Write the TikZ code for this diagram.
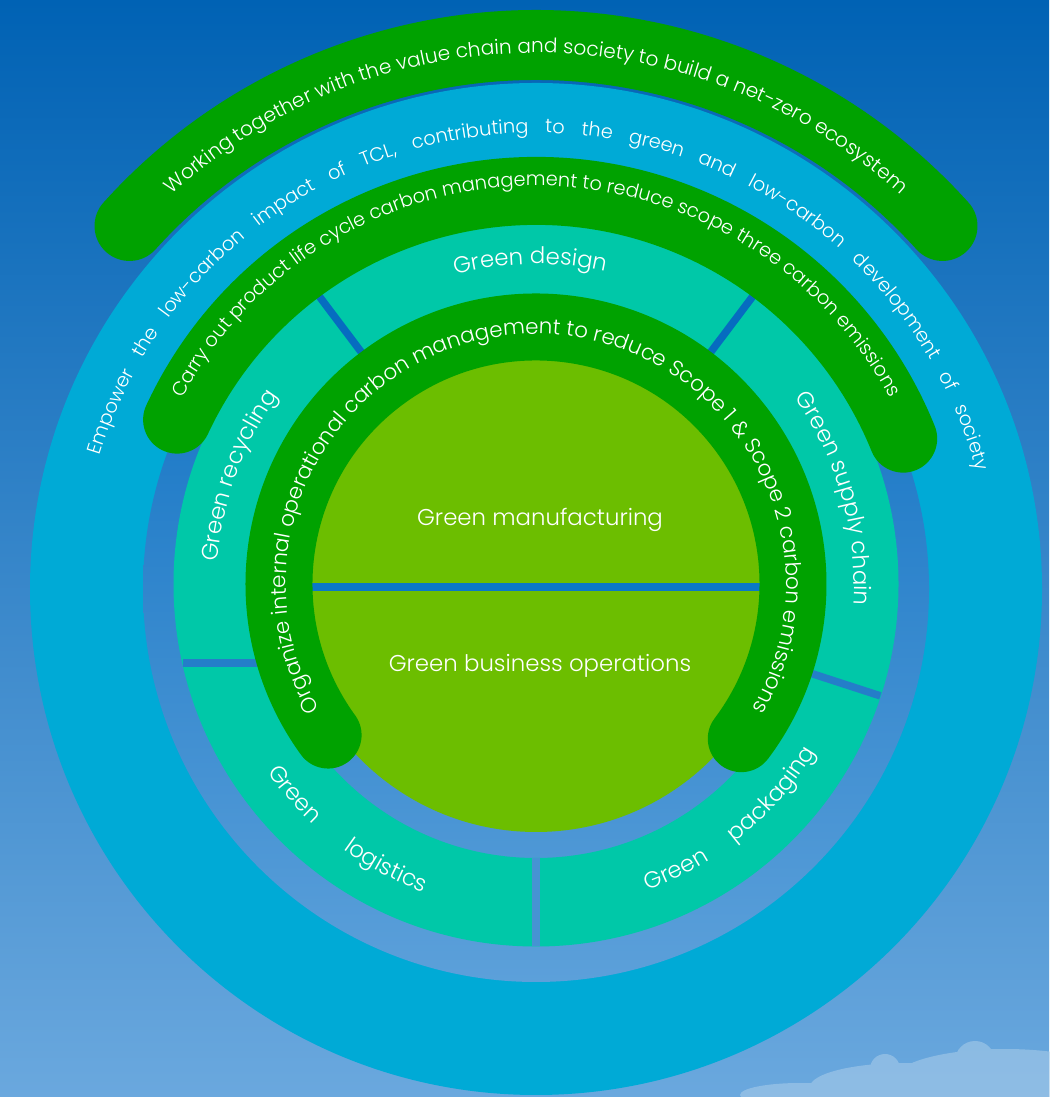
\documentclass[tikz,border=0pt]{standalone}
\usepackage{fontspec}
\setmainfont{Poppins}[UprightFont=* Light]
\usetikzlibrary{decorations.text}

\definecolor{skytop}{RGB}{0,98,180}
\definecolor{skymid}{RGB}{22,124,204}
\definecolor{skybot}{RGB}{106,168,222}
\definecolor{cloud}{RGB}{172,206,234}
\definecolor{ringtop}{RGB}{6,108,192}
\definecolor{ringbot}{RGB}{92,160,218}
\definecolor{cyanring}{RGB}{0,170,214}
\definecolor{tealseg}{RGB}{0,200,168}
\definecolor{bandgreen}{RGB}{0,162,0}
\definecolor{coregreen}{RGB}{108,190,0}
\definecolor{splitblue}{RGB}{10,120,200}

\newcommand{\ringfont}{\fontsize{11pt}{13pt}\selectfont}
\newcommand{\topfont}{\fontsize{11.4pt}{13pt}\selectfont}
\newcommand{\corefont}{\fontsize{12.2pt}{14pt}\selectfont}
\newcommand{\segfont}{\fontsize{13pt}{15pt}\selectfont}

\begin{document}
\begin{tikzpicture}[x=0.02cm,y=0.02cm,
  band/.style={draw=bandgreen,line cap=round},
  split/.style={draw=#1,line width=0.15cm},
  arctext/.style={decorate,decoration={text along path,text color=white,#1}}]
\useasboundingbox (0,0) rectangle (1049,1097);
\shade[top color=skytop,middle color=skymid,bottom color=skybot] (0,0) rectangle (1049,1097);
\begin{scope}[opacity=0.55,transparency group]
\fill[cloud] (1005,18) ellipse[x radius=110,y radius=30];
\fill[cloud] (905,10) ellipse[x radius=95,y radius=24];
\fill[cloud] (975,36) circle (20);
\fill[cloud] (885,28) circle (15);
\fill[cloud] (800,2) ellipse[x radius=60,y radius=12];
\end{scope}

\coordinate (outhub) at (536,508);
\coordinate (tophub) at (536,505);
\coordinate (midhub) at (536,510);
\coordinate (hub) at (536,513);

\fill[cyanring] (outhub) circle (506);
\shade[top color=ringtop,bottom color=ringbot] (outhub) circle (393);
\fill[tealseg,even odd rule] (hub) circle (362.5) circle (274);
\draw[split=ringtop] ([shift={(127:274)}]hub) -- ([shift={(127:362)}]hub);
\draw[split=ringtop] ([shift={(53:274)}]hub) -- ([shift={(53:362)}]hub);
\draw[split=ringtop!65!ringbot] ([shift={(-18:274)}]hub) -- ([shift={(-18:362)}]hub);
\draw[split=ringbot!75!ringtop] ([shift={(270:274)}]hub) -- ([shift={(270:362)}]hub);
\draw[split=ringtop!65!ringbot] (183,434) -- (285,434);

\fill[coregreen] (hub) circle (248);
\draw[splitblue,line width=0.16cm] (290,509.5) -- (782,509.5);

\draw[band,line width=1.34cm] ([shift={(216:257)}]hub) arc[start angle=216,end angle=-37,radius=257];
\draw[band,line width=1.36cm] ([shift={(155:396)}]midhub) arc[start angle=155,end angle=22,radius=396];
\draw[band,line width=1.40cm] ([shift={(138:547)}]tophub) arc[start angle=138,end angle=42,radius=547];

\path[arctext={text align=center,text={|\topfont|Working together with the value chain and society to build a net-zero ecosystem}}]
  ([shift={(170:539)}]tophub) arc[start angle=170,end angle=10,radius=539];
\path[arctext={text align={fit to path stretching spaces},text={|\ringfont|Empower the low-carbon impact of TCL, contributing to the green and low-carbon development of society}}]
  ([shift={(163:456)}]outhub) arc[start angle=163,end angle=15,radius=456];
\path[arctext={text align=center,text={|\ringfont|Carry out product life cycle carbon management to reduce scope three carbon emissions}}]
  ([shift={(170:401)}]midhub) arc[start angle=170,end angle=10,radius=401];
\path[arctext={text align=center,text={|\corefont|Organize internal operational carbon management to reduce Scope 1 {\&} Scope 2 carbon emissions}}]
  ([shift={(235:250)}]hub) arc[start angle=235,end angle=-55,radius=250];

\path[arctext={text align=center,text={|\segfont|Green design}}]
  ([shift={(121:320)}]hub) arc[start angle=121,end angle=61,radius=320];
\path[arctext={text align=center,text={|\segfont|Green supply chain}}]
  ([shift={(50:318)}]hub) arc[start angle=50,end angle=-18,radius=318];
\path[arctext={text align=center,text={|\segfont|Green recycling}}]
  ([shift={(194:319)}]hub) arc[start angle=194,end angle=126,radius=319];
\path[arctext={text align={fit to path stretching spaces},text={|\segfont|Green logistics}}]
  ([shift={(215:328)}]hub) arc[start angle=215,end angle=250,radius=328];
\path[arctext={text align={fit to path stretching spaces},text={|\segfont|Green packaging}}]
  ([shift={(290:326)}]hub) arc[start angle=290,end angle=329,radius=326];

\node[text=white,font=\segfont] (manuf) at (540,577) {Green manufacturing};
\node[text=white,font=\segfont] (bizops) at (540,431) {Green business operations};
\end{tikzpicture}
\end{document}
